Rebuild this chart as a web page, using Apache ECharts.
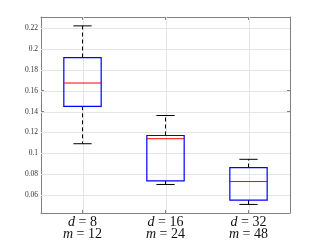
<!DOCTYPE html>
<html><head><meta charset="utf-8">
<script src="https://cdn.jsdelivr.net/npm/echarts@6/dist/echarts.min.js"></script>
<style>html,body{margin:0;padding:0;background:#fff}#c{width:321px;height:241px}</style>
</head><body><div id="c"></div>
<script>
const dValues = ['8', '16', '32'];
const mValues = ['12', '24', '48'];
const lowerWhisker = [0.1092, 0.0702, 0.0511];
const q1 = [0.1450, 0.0736, 0.0552];
const median = [0.1673, 0.1140, 0.0730];
const q3 = [0.1917, 0.1171, 0.0864];
const upperWhisker = [0.2220, 0.1362, 0.0943];
const yTicks = [0.06, 0.08, 0.10, 0.12, 0.14, 0.16, 0.18, 0.20, 0.22];
const yMin = 0.0429, yMax = 0.2305;

const categories = dValues.map((d, i) => i);
const data = dValues.map((d, i) => [i, lowerWhisker[i], q1[i], median[i], q3[i], upperWhisker[i]]);

const chart = echarts.init(document.getElementById('c'), null, {renderer: 'canvas'});
const fmtY = v => (+v.toFixed(2)).toString();
const gridColor = '#e5e5e5', axisColor = '#808080';
const yAxisBase = {
  type: 'value', min: yMin, max: yMax,
  axisLine: {show: true, lineStyle: {color: axisColor, width: 1}},
  axisTick: {show: true, inside: true, length: 3, customValues: yTicks, lineStyle: {color: axisColor}},
  splitLine: {show: false},
};
chart.setOption({
  animation: false,
  grid: {left: 41, right: 31, top: 17, bottom: 27, show: false},
  xAxis: [{
    type: 'category', data: categories, position: 'bottom',
    axisLine: {show: true, onZero: false, lineStyle: {color: axisColor}},
    axisTick: {show: true, inside: true, alignWithLabel: true, length: 3, lineStyle: {color: axisColor}},
    splitLine: {show: false},
    axisLabel: {
      margin: 3, color: '#111', fontFamily: 'Liberation Serif', fontSize: 14, lineHeight: 12,
      formatter: (v, i) => '{i|d} = ' + dValues[i] + '\n{i|m} = ' + mValues[i],
      rich: {i: {fontStyle: 'italic', fontFamily: 'Liberation Serif', fontSize: 14, lineHeight: 12, color: '#111'}}
    }
  }, {
    type: 'category', data: categories, position: 'top',
    axisLine: {show: true, onZero: false, lineStyle: {color: axisColor}},
    axisTick: {show: true, inside: true, alignWithLabel: true, length: 3, lineStyle: {color: axisColor}},
    axisLabel: {show: false}
  }],
  yAxis: [Object.assign({}, yAxisBase, {
    position: 'left',
    axisLabel: {show: true, customValues: yTicks, formatter: fmtY, color: '#333', fontFamily: 'Liberation Serif', fontSize: 7.5, margin: 3}
  }), Object.assign({}, yAxisBase, {
    position: 'right', axisLabel: {show: false}
  })],
  series: [{
    type: 'custom',
    xAxisIndex: 0, yAxisIndex: 0,
    z: 1, silent: true,
    data: [0],
    renderItem: function (params, api) {
      const children = [];
      const x0 = api.coord([0, yMin])[0] - api.size([1, 0])[0] / 2;
      const x1 = x0 + api.size([1, 0])[0] * 3;
      yTicks.forEach(t => {
        const y = Math.round(api.coord([0, t])[1]) + 0.5;
        children.push({type: 'line', shape: {x1: x0, y1: y, x2: x1, y2: y}, style: {stroke: gridColor, lineWidth: 1}});
      });
      const yTop = api.coord([0, yMax])[1], yBot = api.coord([0, yMin])[1];
      categories.forEach(c => {
        const x = Math.round(api.coord([c, yMin])[0]) + 0.5;
        children.push({type: 'line', shape: {x1: x, y1: yTop, x2: x, y2: yBot}, style: {stroke: gridColor, lineWidth: 1}});
      });
      return {type: 'group', children};
    }
  }, {
    type: 'custom',
    xAxisIndex: 0, yAxisIndex: 0,
    z: 5,
    encode: {x: 0, y: [1, 2, 3, 4, 5]},
    data: data,
    renderItem: function (params, api) {
      const i = api.value(0);
      const x = api.coord([i, 0])[0];
      const bw = api.size([1, 0])[0];
      const boxW = bw * 0.45, capW = bw * 0.22;
      const y = k => api.coord([i, api.value(k)])[1];
      const yLo = y(1), yQ1 = y(2), yMed = y(3), yQ3 = y(4), yHi = y(5);
      const dash = {stroke: '#000', lineWidth: 1, lineDash: [4, 3]};
      const solid = {stroke: '#000', lineWidth: 1};
      return {type: 'group', children: [
        {type: 'line', shape: {x1: x, y1: yQ3, x2: x, y2: yHi}, style: dash},
        {type: 'line', shape: {x1: x, y1: yQ1, x2: x, y2: yLo}, style: dash},
        {type: 'line', shape: {x1: x - capW / 2, y1: yHi, x2: x + capW / 2, y2: yHi}, style: solid},
        {type: 'line', shape: {x1: x - capW / 2, y1: yLo, x2: x + capW / 2, y2: yLo}, style: solid},
        {type: 'rect', shape: {x: x - boxW / 2, y: yQ3, width: boxW, height: yQ1 - yQ3}, style: {fill: 'rgba(255,255,255,0)', stroke: '#0000ff', lineWidth: 1.2}},
        {type: 'line', shape: {x1: x - boxW / 2, y1: yMed, x2: x + boxW / 2, y2: yMed}, style: {stroke: '#ff0000', lineWidth: 1}}
      ]};
    }
  }]
});
</script></body></html>
